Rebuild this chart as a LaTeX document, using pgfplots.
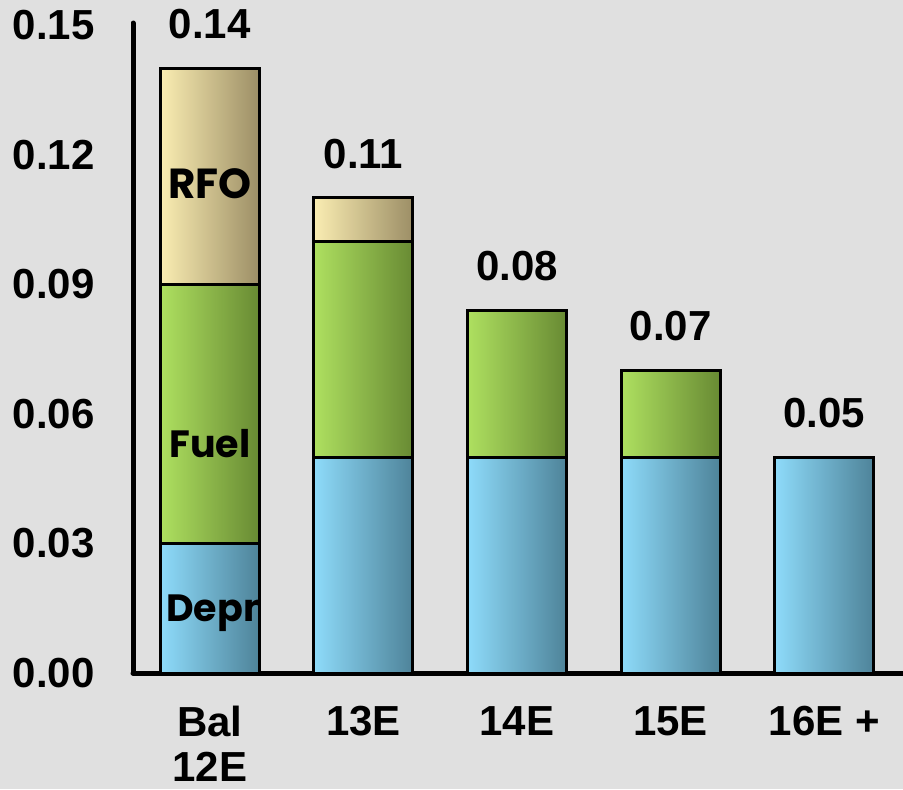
\documentclass[border=0pt]{standalone}
\usepackage{fontspec}
\setmainfont{Liberation Sans}
\newfontfamily\segfont{Poppins}
\usepackage{pgfplots}
\pgfplotsset{compat=1.18}

\definecolor{bgc}{HTML}{E0E0E0}
\definecolor{depnL}{HTML}{8EDBFA}
\definecolor{depnR}{HTML}{4E8399}
\definecolor{fuelL}{HTML}{AEE060}
\definecolor{fuelR}{HTML}{688A33}
\definecolor{rfoL}{HTML}{FAEDB2}
\definecolor{rfoR}{HTML}{9C8E66}

% each bar is its own plot so that its shading runs across that bar only;
% segments are drawn from their cumulative tops down, the upper ones first
\pgfplotsset{
  depn/.style={left color=depnL, right color=depnR},
  fuel/.style={left color=fuelL, right color=fuelR},
  rfo/.style={left color=rfoL, right color=rfoR},
}
\newcommand\segfontsize{\segfont\bfseries\fontsize{19}{19}\selectfont}

\begin{document}
\begin{tikzpicture}
\useasboundingbox (0,0) rectangle (451.5pt,394.5pt);
\fill[bgc] (0,0) rectangle (451.5pt,394.5pt);
\begin{axis}[
  at={(66.5pt,58pt)}, anchor=south west,
  scale only axis, width=385pt, height=325pt,
  xmin=-0.5, xmax=4.513, ymin=0, ymax=0.1505,
  ybar, bar shift=0pt, bar width=49.5pt,
  axis x line=bottom, axis y line=left,
  axis line style={-, line width=2.5pt, line cap=round},
  clip=false,
  major tick length=0pt,
  xtick={0,1,2,3,4},
  xticklabels={{Bal\\12E},13E,14E,15E,{16E +}},
  xticklabel style={align=center, anchor=north, inner sep=0pt, yshift=-16.5pt,
    font=\bfseries\fontsize{21}{22.5}\selectfont},
  ytick={0,0.03,0.06,0.09,0.12,0.15},
  yticklabel style={anchor=east, inner sep=0pt, xshift=-19pt,
    font=\bfseries\fontsize{21}{21}\selectfont,
    /pgf/number format/assume math mode=true,
    /pgf/number format/fixed, /pgf/number format/fixed zerofill,
    /pgf/number format/precision=2},
  every axis plot/.append style={draw=black, line width=1.5pt},
]
% Bal 12E: Depn 0.03, Fuel 0.06, RFO 0.05
\addplot[rfo]  coordinates {(0,0.14)};
\addplot[fuel] coordinates {(0,0.09)};
\addplot[depn] coordinates {(0,0.03)};
% 13E: Depn 0.05, Fuel 0.05, RFO 0.01
\addplot[rfo]  coordinates {(1,0.11)};
\addplot[fuel] coordinates {(1,0.10)};
\addplot[depn] coordinates {(1,0.05)};
% 14E: Depn 0.05, Fuel 0.034
\addplot[fuel] coordinates {(2,0.084)};
\addplot[depn] coordinates {(2,0.05)};
% 15E: Depn 0.05, Fuel 0.02
\addplot[fuel] coordinates {(3,0.07)};
\addplot[depn] coordinates {(3,0.05)};
% 16E +: Depn 0.05
\addplot[depn] coordinates {(4,0.05)};
% totals, labelled above each bar
\addplot[draw=none, fill=none,
  nodes near coords,
  every node near coord/.append style={anchor=south, inner sep=0pt, yshift=14pt,
    text=black, font=\bfseries\fontsize{21}{21}\selectfont,
    /pgf/number format/assume math mode=true,
    /pgf/number format/fixed, /pgf/number format/fixed zerofill,
    /pgf/number format/precision=2}]
  coordinates {(0,0.14) (1,0.11) (2,0.084) (3,0.07) (4,0.05)};
\coordinate (rT) at (axis cs:0,0.1134);
\coordinate (fT) at (axis cs:0,0.0532);
\coordinate (dA) at (axis cs:-0.32,0);
\coordinate (dB) at (axis cs:0.32,0.03);
\coordinate (dT) at (axis cs:0.05,0.0139);
\end{axis}
% segment names
\node[font=\segfont\bfseries\fontsize{21}{21}\selectfont] at (rT) {RFO};
\node[font=\segfontsize] at (fT) {Fuel};
% the Depn label is cut off at the edge of its bar
\begin{scope}
  \clip (dA) rectangle (dB);
  \node[font=\segfontsize] at (dT) {Depn};
\end{scope}
\end{tikzpicture}
\end{document}
